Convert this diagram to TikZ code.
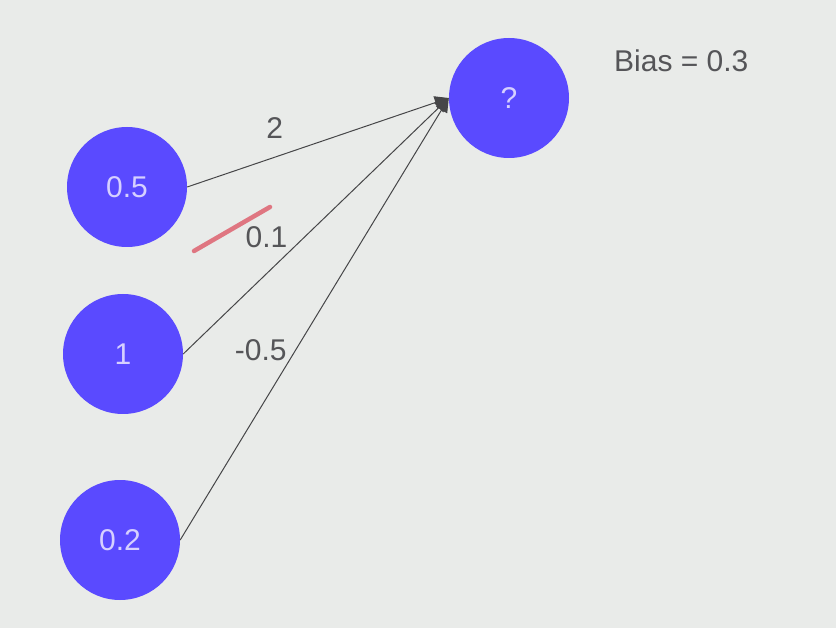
\documentclass[tikz,border=0pt]{standalone}
\usepackage{fontspec}
\setmainfont{Liberation Sans}
\usepackage{tikz}
\usetikzlibrary{arrows.meta}
\definecolor{slidebg}{RGB}{233,235,233}
\definecolor{neuron}{RGB}{90,74,255}
\definecolor{neurontext}{RGB}{214,208,255}
\definecolor{wiregray}{RGB}{70,70,72}
\definecolor{labelgray}{RGB}{85,85,88}
\definecolor{penred}{RGB}{220,80,95}

\begin{document}
\begin{tikzpicture}[x=1pt, y=-1pt, >={Triangle[length=14pt,width=13pt]},
    neuron/.style={circle, fill=neuron, minimum size=120pt, inner sep=0pt,
                   text=neurontext, font=\fontsize{30}{36}\selectfont},
    wire/.style={draw=wiregray, line width=1pt, ->},
    wlabel/.style={text=labelgray, font=\fontsize{30}{36}\selectfont, inner sep=1pt}]

  %% background
  \fill[slidebg] (0,0) rectangle (836,628);
  \useasboundingbox (0,0) rectangle (836,628);

  %% ── Inputs ──────────────────────────────
  \node[neuron] (in1) at (127,187) {0.5};
  \node[neuron] (in2) at (123,354) {1};
  \node[neuron] (in3) at (120,540) {0.2};

  %% ── Output ──────────────────────────────
  \node[neuron] (out) at (509,98) {?};
  \node[wlabel, anchor=west] (bias) at (613,61) {Bias = 0.3};

  %% ── Weighted connections ────────────────
  \draw[wire] (in1.east) -- node[wlabel, pos=0.335, yshift=29pt] (w1) {2} (out.west);
  \draw[wire] (in2.east) -- node[wlabel, pos=0.457, xshift=-38pt] (w2) {0.1} (out.west);
  \draw[wire] (in3.east) -- node[wlabel, pos=0.43, xshift=-35pt] (w3) {-0.5} (out.west);

  %% pen mark
  \draw[penred, opacity=0.75, line width=4.5pt, line cap=round] (194,251) -- (270,207);

\end{tikzpicture}
\end{document}
